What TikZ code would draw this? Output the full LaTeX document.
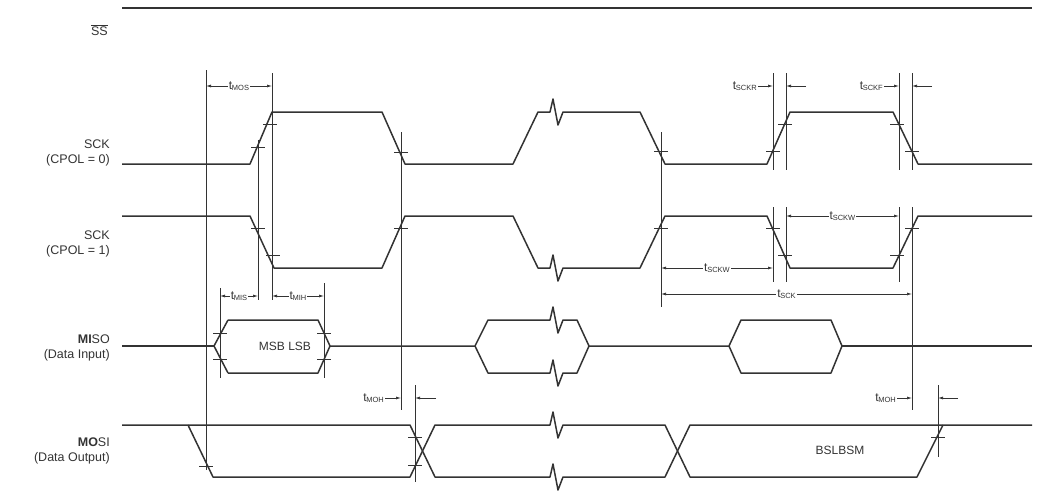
\documentclass[tikz,border=0pt]{standalone}
\usepackage{fontspec}
\setmainfont{Liberation Sans}
\usetikzlibrary{arrows.meta}
\newcommand{\tl}[1]{t\kern-0.3pt{\fontsize{7.5}{8}\selectfont\raisebox{-1pt}{#1}}}
\begin{document}
\begin{tikzpicture}[x=1pt,y=-1pt,
  sig/.style={line width=1.5pt,color=black!80,line join=round},
  vl/.style={line width=0.9pt,color=black!80},
  tk/.style={line width=0.9pt,color=black!80},
  dim/.style={line width=0.7pt,color=black!80,{Latex[length=5pt,width=3pt]}-{Latex[length=5pt,width=3pt]}},
  ra/.style={line width=0.7pt,color=black!80,-{Latex[length=5pt,width=3pt]}},
  lab/.style={font=\fontsize{12.5}{15}\selectfont,align=right,anchor=east,inner sep=0pt,text=black!80},
  tt/.style={font=\fontsize{12}{14}\selectfont,inner sep=1pt,text=black!80,fill=white}]
\useasboundingbox (0,0) rectangle (1037,496);
% labels
\node[lab] (ss) at (108,30) {$\overline{\mbox{SS}}$};
\node[lab] (s0) at (110,153) {SCK\\(CPOL = 0)};
\node[lab] (s1) at (110,244) {SCK\\(CPOL = 1)};
\node[lab] (mi) at (110,348) {\textbf{MI}SO\\(Data Input)};
\node[lab] (mo) at (110,451) {\textbf{MO}SI\\(Data Output)};
% SS
\draw[sig] (122,8) -- (1032,8);
% SCK0
\draw[sig] (122,164) -- (250,164) -- (272,112) -- (382,112) -- (405,164) -- (513,164) -- (538,112) -- (550,112) -- (553,99) -- (558,125) -- (563,112) -- (640,112) -- (665,164) -- (767,164) -- (790,112) -- (893,112) -- (918,164) -- (1032,164);
% SCK1
\draw[sig] (122,216) -- (250,216) -- (274,268) -- (382,268) -- (405,216) -- (513,216) -- (538,268) -- (550,268) -- (553,255) -- (558,281) -- (563,268) -- (640,268) -- (665,216) -- (767,216) -- (790,268) -- (893,268) -- (918,216) -- (1032,216);
% MISO
\draw[sig] (122,346) -- (214,346);
\draw[sig] (228,320) -- (214,346) -- (228,373);
\draw[sig] (228,320) -- (318,320) -- (330,346) -- (318,373) -- (228,373);
\draw[sig] (330,346) -- (475,346) -- (488,320) -- (550,320) -- (553,307) -- (558,333) -- (563,320) -- (577,320) -- (589,346) -- (577,373) -- (563,373) -- (558,386) -- (553,360) -- (550,373) -- (488,373) -- (475,346);
\draw[sig] (589,346) -- (729,346) -- (741,320) -- (831,320) -- (842,346) -- (831,373) -- (741,373) -- (729,346);
\draw[sig] (842,346) -- (1032,346);
\node[tt,fill=none] (msb) at (285,346) {MSB LSB};
% MOSI
\draw[sig] (122,425) -- (410,425) -- (435,477) -- (550,477) -- (553,464) -- (558,490) -- (563,477) -- (665,477) -- (690,425) -- (1032,425);
\draw[sig] (188,425) -- (213,477) -- (410,477) -- (435,425) -- (550,425) -- (553,412) -- (558,438) -- (563,425) -- (665,425) -- (690,477) -- (917,477) -- (943,425);
\node[tt,fill=none] (bsl) at (840,450) {BSLBSM};
% vertical lines
\draw[vl] (206,70) -- (206,470);
\draw[vl] (272,73) -- (272,300);
\draw[vl] (258,140) -- (258,300);
\draw[vl] (220,288) -- (220,378);
\draw[vl] (324,283) -- (324,378);
\draw[vl] (401,132) -- (401,410);
\draw[vl] (661,132) -- (661,307);
\draw[vl] (773,73) -- (773,170);
\draw[vl] (786,73) -- (786,170);
\draw[vl] (899,73) -- (899,170);
\draw[vl] (912,73) -- (912,170);
\draw[vl] (773,207) -- (773,282);
\draw[vl] (786,207) -- (786,282);
\draw[vl] (899,207) -- (899,282);
\draw[vl] (912,207) -- (912,410);
\draw[vl] (415,385) -- (415,482);
\draw[vl] (938,385) -- (938,457);
% ticks
\foreach \x/\y in {258/147,270/124,401/152,661/151,773/151,785/124,897/124,912/151,
  258/228,273/255,401/228,661/228,773/228,785/255,897/255,912/228,
  220/333,220/359,324/333,324/359,206/466,415/437,415/465,938/437}
  \draw[tk] (\x-7,\y) -- (\x+7,\y);
% dimensions
\draw[dim] (206,86) -- (272,86) node[tt,midway] (tmos) {\tl{MOS}};
\draw[dim] (220,296) -- (258,296) node[tt,midway] (tmis) {\tl{MIS}};
\draw[dim] (272,296) -- (324,296) node[tt,midway] (tmih) {\tl{MIH}};
\draw[dim] (786,216) -- (899,216) node[tt,midway] (tw1) {\tl{SCKW}};
\draw[dim] (661,268) -- (773,268) node[tt,midway] (tw2) {\tl{SCKW}};
\draw[dim] (661,294) -- (912,294) node[tt,midway] (tsck) {\tl{SCK}};
% one-sided
\node[tt,anchor=east] (tr) at (758,86) {\tl{SCKR}};
\draw[ra] (tr.east) -- (773,86);
\draw[ra] (806,86) -- (786,86);
\node[tt,anchor=east] (tf) at (884,86) {\tl{SCKF}};
\draw[ra] (tf.east) -- (899,86);
\draw[ra] (932,86) -- (912,86);
\node[tt,anchor=east] (th1) at (385,398) {\tl{MOH}};
\draw[ra] (th1.east) -- (401,398);
\draw[ra] (436,398) -- (415,398);
\node[tt,anchor=east] (th2) at (897,398) {\tl{MOH}};
\draw[ra] (th2.east) -- (912,398);
\draw[ra] (958,398) -- (938,398);
\end{tikzpicture}
\end{document}
